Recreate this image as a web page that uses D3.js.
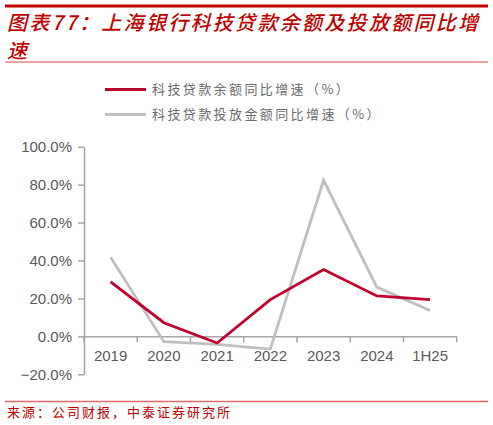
<!DOCTYPE html>
<html><head><meta charset="utf-8">
<script src="https://cdn.jsdelivr.net/npm/d3@7/dist/d3.min.js"></script>
<style>
html,body{margin:0;padding:0;background:#fff;}
svg{display:block;}
</style></head>
<body>
<svg id="chart" width="493" height="425"></svg>
<script>
const categories = ["2019","2020","2021","2022","2023","2024","1H25"];
const loanBalanceGrowth = [28.7, 7.2, -3.5, 19.4, 35.2, 21.3, 19.4];
const loanIssuanceGrowth = [41.7, -2.8, -4.2, -6.7, 82.3, 26.0, 13.6];
const yTicks = [-20, 0, 20, 40, 60, 80, 100];
const seriesNames = ["科技贷款余额同比增速（%）", "科技贷款投放金额同比增速（%）"];
const titleLines = ["图表77：上海银行科技贷款余额及投放额同比增", "速"];
const sourceText = "来源：公司财报，中泰证券研究所";

const svg = d3.select("#chart");
const red = "#C0002F", gray = "#BFBFBF", titleRed = "#C00000";

// header
svg.append("line").attr("x1",5).attr("x2",488).attr("y1",6).attr("y2",6)
  .attr("stroke",titleRed).attr("stroke-width",3);
svg.append("line").attr("x1",5).attr("x2",488).attr("y1",62).attr("y2",62)
  .attr("stroke","#E08585").attr("stroke-width",1.5);
const tt = svg.append("text").attr("fill",titleRed)
  .style("font-family","'Noto Sans CJK SC'").style("font-size","20px")
  .style("font-style","italic").style("font-weight","500").style("letter-spacing","2.3px");
titleLines.forEach((t,i)=>tt.append("tspan").attr("x",7).attr("y",30+i*28).text(t));

// footer
svg.append("line").attr("x1",5).attr("x2",488).attr("y1",401.5).attr("y2",401.5)
  .attr("stroke","#E06A6A").attr("stroke-width",1.5);
svg.append("text").attr("x",7).attr("y",417).attr("fill",titleRed)
  .style("font-family","'Noto Sans CJK SC'").style("font-size","13px")
  .style("letter-spacing","2px").text(sourceText);

// scales
const x = d3.scaleBand().domain(categories).range([84, 456.7]).padding(0);
const y = d3.scaleLinear().domain([-20,100]).range([374.3,146.7]);

const axisColor = "#A6A6A6";
const labelColor = "#595959";

// y axis
const yAxis = svg.append("g").attr("transform","translate(84,0)")
  .call(d3.axisLeft(y).tickValues(yTicks).tickSize(6).tickSizeOuter(0).tickPadding(6)
    .tickFormat(d=>d3.format(".1f")(d)+"%"));
yAxis.select(".domain").attr("stroke",axisColor).attr("stroke-width",1.5);
yAxis.selectAll(".tick line").attr("stroke",axisColor).attr("stroke-width",1.5);
yAxis.selectAll(".tick text").attr("fill",labelColor)
  .style("font-family","'Liberation Sans', Arial, sans-serif").style("font-size","15px");

// x axis
const xAxis = svg.append("g").attr("transform",`translate(0,${y(0)})`)
  .call(d3.axisBottom(x).tickSize(0).tickSizeOuter(0).tickPadding(14));
xAxis.select(".domain").attr("stroke",axisColor).attr("stroke-width",1.5);
xAxis.selectAll(".tick text").attr("fill",labelColor)
  .style("font-family","'Liberation Sans', Arial, sans-serif").style("font-size","15px");
const bounds = categories.map(c=>x(c)).concat([x(categories[categories.length-1])+x.bandwidth()]);
xAxis.selectAll(".bnd").data(bounds).enter().append("line")
  .attr("x1",d=>d).attr("x2",d=>d).attr("y1",0).attr("y2",6)
  .attr("stroke",axisColor).attr("stroke-width",1.5);

// lines
const line = d3.line().x((d,i)=>x(categories[i])+x.bandwidth()/2).y(d=>y(d));
svg.append("path").datum(loanIssuanceGrowth).attr("d",line)
  .attr("fill","none").attr("stroke",gray).attr("stroke-width",2.8).attr("stroke-linejoin","miter");
svg.append("path").datum(loanBalanceGrowth).attr("d",line)
  .attr("fill","none").attr("stroke",red).attr("stroke-width",2.8).attr("stroke-linejoin","miter");

// legend
const legColors = [red, gray];
seriesNames.forEach((n,i)=>{
  const ly = 89.5 + i*25;
  svg.append("line").attr("x1",105).attr("x2",146).attr("y1",ly).attr("y2",ly)
    .attr("stroke",legColors[i]).attr("stroke-width",3);
  svg.append("text").attr("x",152).attr("y",ly).attr("dy","0.36em").attr("fill","#6b6b6b")
    .style("font-family","'Noto Sans CJK SC'").style("font-size","13px")
    .style("letter-spacing","2.4px").text(n);
});
</script>
</body></html>
